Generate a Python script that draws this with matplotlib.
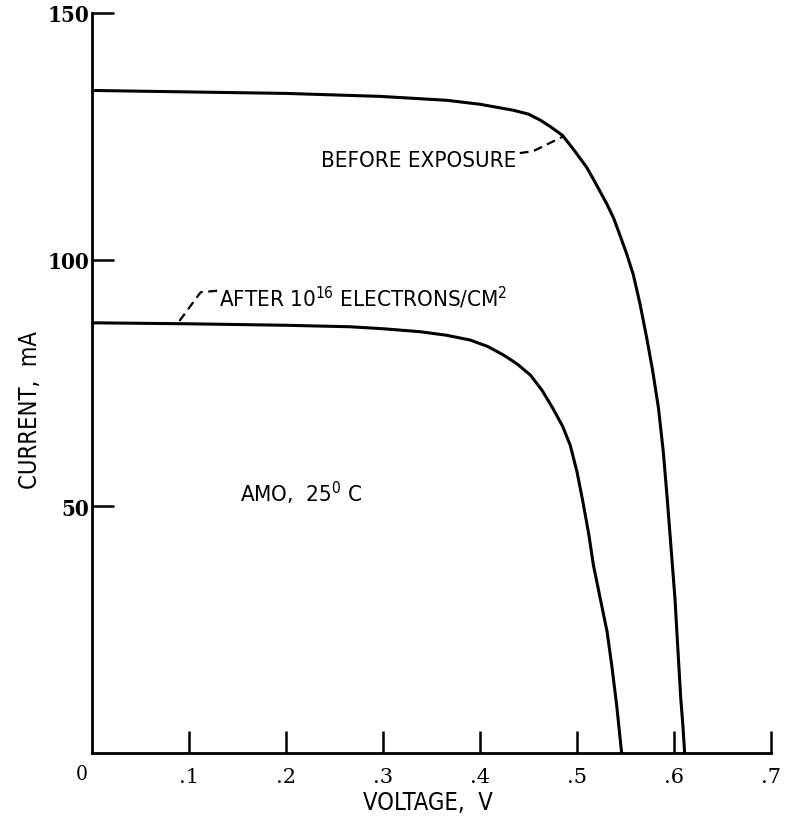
import numpy as np
import matplotlib
matplotlib.use("Agg")
import matplotlib.pyplot as plt

# 曲线数据
v_before = [0.0, 0.10, 0.20, 0.297, 0.366, 0.400, 0.434, 0.450, 0.462, 0.473,
            0.485, 0.497, 0.510, 0.520, 0.531, 0.538, 0.544, 0.551, 0.558, 0.565,
            0.572, 0.578, 0.584, 0.589, 0.593, 0.597, 0.601, 0.604, 0.607, 0.609, 0.611]
i_before = [134.3, 134.0, 133.7, 133.1, 132.3, 131.5, 130.3, 129.5, 128.3, 126.9,
            125.2, 122.2, 118.7, 115.2, 111.2, 108.3, 105.1, 101.3, 97.0, 91.0,
            84.0, 77.5, 69.9, 61.0, 51.6, 41.5, 31.3, 21.0, 11.0, 6.0, 0.0]

v_after = [0.0, 0.10, 0.20, 0.266, 0.300, 0.338, 0.365, 0.390, 0.408, 0.424,
           0.438, 0.452, 0.464, 0.475, 0.485, 0.493, 0.500, 0.506, 0.512, 0.517,
           0.524, 0.531, 0.536, 0.541, 0.546]
i_after = [87.2, 87.0, 86.7, 86.4, 86.0, 85.4, 84.7, 83.7, 82.4, 80.7,
           78.9, 76.6, 73.5, 69.9, 66.3, 62.4, 57.0, 51.0, 44.5, 38.0,
           31.3, 24.6, 17.5, 9.5, 0.0]

x_ticks = [0.1, 0.2, 0.3, 0.4, 0.5, 0.6, 0.7]
x_labels = ['.1', '.2', '.3', '.4', '.5', '.6', '.7']
y_ticks = [50, 100, 150]
y_labels = ['50', '100', '150']

# 引线
lead_before_v = [0.441, 0.455, 0.485]
lead_before_i = [121.6, 122.0, 124.9]
lead_after_v = [0.129, 0.112, 0.088]
lead_after_i = [93.7, 93.4, 87.0]

plt.rcParams['font.family'] = ['DejaVu Sans']
plt.rcParams['font.stretch'] = 'condensed'
plt.rcParams['mathtext.fontset'] = 'custom'
plt.rcParams['mathtext.rm'] = 'DejaVu Sans:stretch=condensed'
plt.rcParams['mathtext.it'] = 'DejaVu Sans:stretch=condensed'

fig = plt.figure(figsize=(7.86, 8.2), dpi=100)
ax = fig.add_axes([92 / 786, 1 - 754 / 820, (771 - 92) / 786, (754 - 14) / 820])

ax.plot(v_before, i_before, color='black', lw=2.2, solid_joinstyle='round')
ax.plot(v_after, i_after, color='black', lw=2.2, solid_joinstyle='round')
ax.plot(lead_before_v, lead_before_i, color='black', lw=1.6, ls=(0, (4, 2.5)))
ax.plot(lead_after_v, lead_after_i, color='black', lw=1.6, ls=(0, (4, 2.5)))

ax.set_xlim(0, 0.7)
ax.set_ylim(0, 150)
for s in ['top', 'right']:
    ax.spines[s].set_visible(False)
for s in ['left', 'bottom']:
    ax.spines[s].set_linewidth(2.0)

ax.set_xticks(x_ticks)
ax.set_xticklabels(x_labels, fontfamily='DejaVu Serif', fontsize=15, fontstretch='normal')
ax.set_yticks(y_ticks)
ax.set_yticklabels(y_labels, fontfamily='DejaVu Serif', fontweight='bold', fontsize=16,
                   fontstretch='condensed')
ax.tick_params(axis='x', direction='in', length=16, width=1.8, pad=10)
ax.tick_params(axis='y', direction='in', length=16, width=1.8, pad=2)

ax.text(-0.0103, -0.028, '0', transform=ax.get_xaxis_transform(),
        ha='center', va='center', fontfamily='DejaVu Serif', fontsize=15)

ax.text(0.437, 119, 'BEFORE EXPOSURE', ha='right', va='baseline', fontsize=16)
ax.text(0.131, 90.6, 'AFTER 10$^{16}$ ELECTRONS/CM$^{2}$', ha='left', va='baseline',
        fontsize=16)
ax.text(0.1526, 51.1, 'AMO,  25$^{0}$ C', ha='left', va='baseline', fontsize=16)

fig.text(30 / 786, 1 - 410 / 820, 'CURRENT,  mA', rotation=90, ha='center', va='center', fontsize=17)
fig.text(428 / 786, 1 - 803 / 820, 'VOLTAGE,  V', ha='center', va='center', fontsize=17)

fig.savefig('out.png', dpi=100)
